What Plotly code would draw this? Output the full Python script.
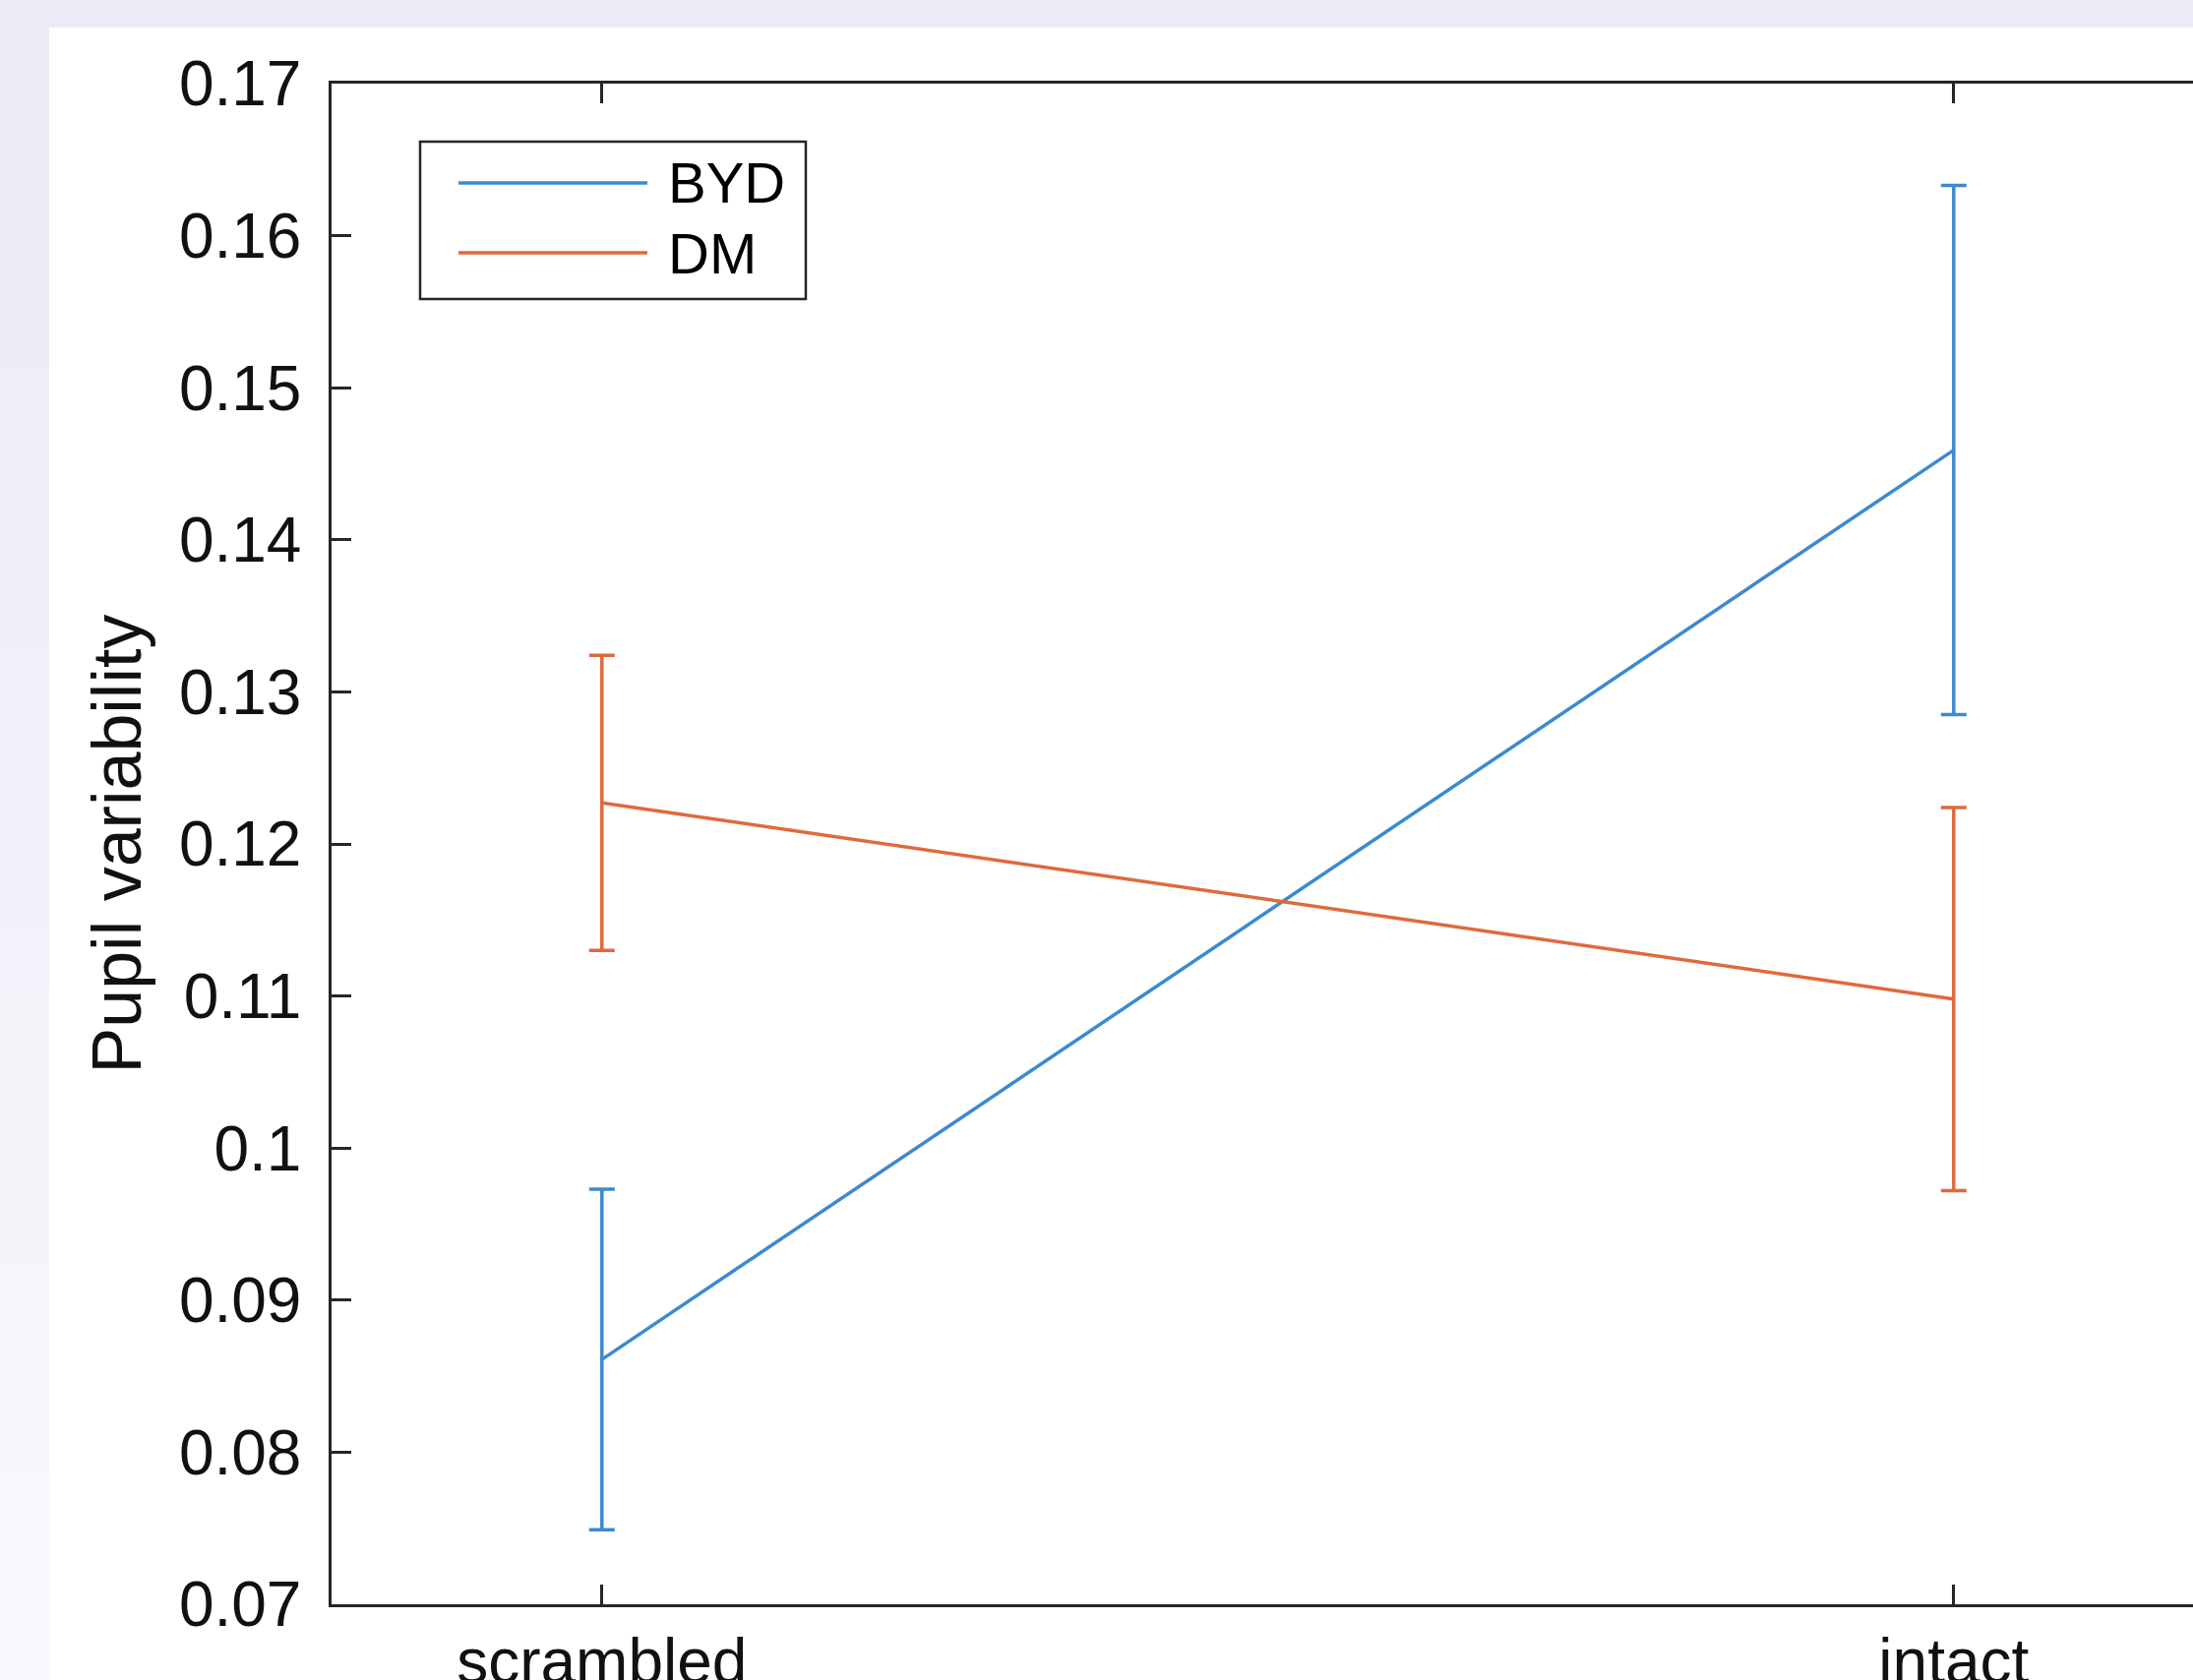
import plotly.graph_objects as go

# ---- data ----
categories = ["scrambled", "intact"]
series_names = ["BYD", "DM"]
byd_mean = [0.0861, 0.1459]
byd_err = [0.0112, 0.0174]
dm_mean = [0.1227, 0.1098]
dm_err = [0.0097, 0.0126]
y_tick_vals = [0.07, 0.08, 0.09, 0.10, 0.11, 0.12, 0.13, 0.14, 0.15, 0.16, 0.17]
y_tick_text = ["0.07", "0.08", "0.09", "0.1", "0.11", "0.12", "0.13", "0.14", "0.15", "0.16", "0.17"]
y_title = "Pupil variability"

# ---- style ----
W, H = 2229, 1708
ML, MT, MB, MR = 337, 85, 77, 0
colors = ["#3D8ACC", "#E0693C"]
axis_col = "#262626"
font_fam = "Liberation Sans, Arial, Helvetica, sans-serif"

means = [byd_mean, dm_mean]
errs = [byd_err, dm_err]

fig = go.Figure()
for name, m, e, c in zip(series_names, means, errs, colors):
    fig.add_trace(go.Scatter(
        x=categories, y=m, name=name, mode="lines",
        line=dict(color=c, width=3.5),
        error_y=dict(type="data", array=e, visible=True, color=c, thickness=3.5, width=13),
        showlegend=False,
    ))

PW = W - ML - MR
PH = H - MT - MB


def px_to_paper(px, py):
    return (px - ML) / PW, (H - MB - py) / PH


shapes = []
# lavender page strips (top + left with light gradient)
shapes.append(dict(type="rect", xref="paper", yref="paper",
                   x0=px_to_paper(0, 0)[0], x1=px_to_paper(W, 0)[0],
                   y0=px_to_paper(0, 28)[1], y1=px_to_paper(0, 0)[1],
                   fillcolor="#ECEAF5", line=dict(width=0), layer="below"))
n_bands = 24
c0 = (236, 234, 245)
c1 = (248, 248, 253)
for i in range(n_bands):
    t = i / (n_bands - 1)
    col = "rgb(%d,%d,%d)" % tuple(round(a + (b - a) * t) for a, b in zip(c0, c1))
    ya = 28 + (H - 28) * i / n_bands
    yb = 28 + (H - 28) * (i + 1) / n_bands + 1
    shapes.append(dict(type="rect", xref="paper", yref="paper",
                       x0=px_to_paper(0, 0)[0], x1=px_to_paper(50, 0)[0],
                       y0=px_to_paper(0, yb)[1], y1=px_to_paper(0, ya)[1],
                       fillcolor=col, line=dict(width=0), layer="below"))

# legend box
lx0, lx1, ly0, ly1 = 427, 819, 144, 304
shapes.append(dict(type="rect", xref="paper", yref="paper",
                   x0=px_to_paper(lx0, 0)[0], x1=px_to_paper(lx1, 0)[0],
                   y0=px_to_paper(0, ly1)[1], y1=px_to_paper(0, ly0)[1],
                   fillcolor="white", line=dict(color=axis_col, width=2.5)))
annotations = []
leg_rows = [186, 257]
for name, c, ry in zip(series_names, colors, leg_rows):
    shapes.append(dict(type="line", xref="paper", yref="paper",
                       x0=px_to_paper(466, 0)[0], x1=px_to_paper(658, 0)[0],
                       y0=px_to_paper(0, ry)[1], y1=px_to_paper(0, ry)[1],
                       line=dict(color=c, width=3.5)))
    annotations.append(dict(text=name, xref="paper", yref="paper",
                            x=px_to_paper(677, 0)[0], y=px_to_paper(0, ry)[1],
                            xanchor="left", yanchor="middle", showarrow=False,
                            font=dict(size=58, color="#000000", family=font_fam)))

fig.update_layout(
    width=W, height=H, autosize=False,
    margin=dict(l=ML, r=MR, t=MT, b=MB, pad=0, autoexpand=False),
    paper_bgcolor="white", plot_bgcolor="white",
    font=dict(family=font_fam, color=axis_col),
    shapes=shapes, annotations=annotations,
    xaxis=dict(
        type="category", categoryorder="array", categoryarray=categories,
        range=[-0.2, 1.177], showline=True, linecolor=axis_col, linewidth=2.5,
        mirror="ticks", ticks="inside", ticklen=20, tickwidth=2.5, tickcolor=axis_col,
        showgrid=False, zeroline=False, tickfont=dict(size=64, color="#111111"),
        ticklabelstandoff=0, automargin=False,
    ),
    yaxis=dict(
        range=[0.07, 0.17], tickvals=y_tick_vals, ticktext=y_tick_text,
        showline=True, linecolor=axis_col, linewidth=2.5, mirror=False,
        ticks="inside", ticklen=20, tickwidth=2.5, tickcolor=axis_col,
        showgrid=False, zeroline=False, tickfont=dict(size=64, color="#111111"),
        ticklabelstandoff=15,
        title=dict(text=y_title, font=dict(size=70, color="#111111"), standoff=16),
        automargin=False,
    ),
)

fig.write_html("out.html", config={"displayModeBar": False},
               post_script="document.body.style.margin='0px';document.body.style.overflow='hidden';")
